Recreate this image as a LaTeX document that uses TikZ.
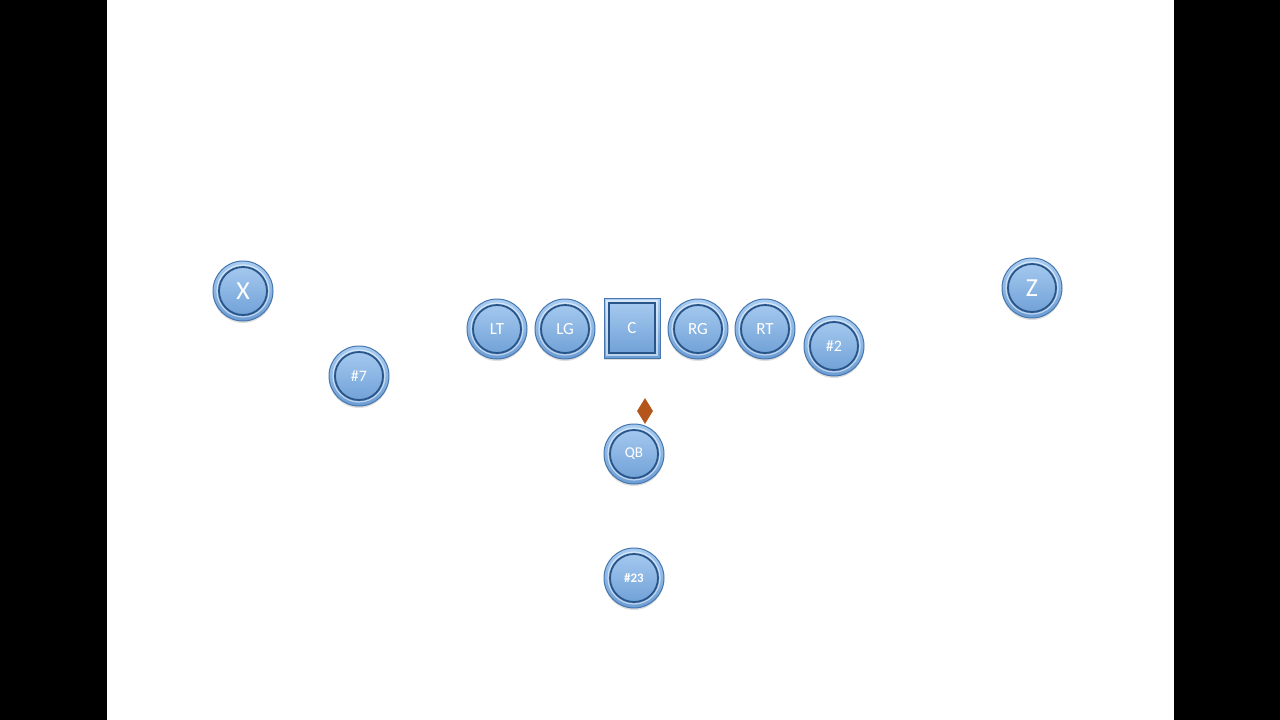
\documentclass[tikz,border=0pt]{standalone}
\usepackage{fontspec}
\setmainfont{Carlito}
\usetikzlibrary{shapes.geometric,shadows}
\definecolor{ptop}{HTML}{A9CDF2}
\definecolor{pbot}{HTML}{6C9DD4}
\definecolor{pedge}{HTML}{4676AE}
\definecolor{pring}{HTML}{2A5588}
\definecolor{snapc}{HTML}{B4561C}
\tikzset{
  player/.style={circle, minimum size=60pt, inner sep=0pt, draw=pedge, line width=1pt,
    top color=ptop, bottom color=pbot, text=white, font=\fontsize{17}{17}\selectfont,
    drop shadow={opacity=0.25, shadow xshift=0pt, shadow yshift=-2pt},
    path picture={
      \draw[white, opacity=0.55, line width=1.2pt] (path picture bounding box.center) circle (26);
      \draw[pring, line width=1.8pt] (path picture bounding box.center) circle (24);
    }},
  centerbox/.style={rectangle, minimum width=56pt, minimum height=60pt, inner sep=0pt, draw=pedge, line width=1pt,
    top color=ptop, bottom color=pbot, text=white, font=\fontsize{17}{17}\selectfont,
    drop shadow={opacity=0.25, shadow xshift=0pt, shadow yshift=-2pt},
    path picture={
      \draw[white, opacity=0.55, line width=1.2pt] ([shift={(3,3)}]path picture bounding box.north west) rectangle ([shift={(-3,-3)}]path picture bounding box.south east);
      \draw[pring, line width=1.8pt] ([shift={(5,5)}]path picture bounding box.north west) rectangle ([shift={(-5,-5)}]path picture bounding box.south east);
    }},
  snapball/.style={diamond, fill=snapc, draw=none, minimum width=16pt, minimum height=26pt, inner sep=0pt}
}
\begin{document}
\begin{tikzpicture}[x=1pt,y=-1pt]
\useasboundingbox (0,0) rectangle (1280,720);
\fill[black] (0,0) rectangle (107,720);
\fill[black] (1174,0) rectangle (1280,720);
\fill[white] (107,0) rectangle (1174,720);
\node[player, font=\fontsize{26}{26}\selectfont] (X) at (243,291) {X};
\node[player, font=\fontsize{16}{16}\selectfont] (p7) at (359,376) {\#7};
\node[player] (LT) at (497,329) {LT};
\node[player] (LG) at (565,329) {LG};
\node[centerbox] (C) at (632,328) {C};
\node[player] (RG) at (698,329) {RG};
\node[player] (RT) at (765,329) {RT};
\node[player, font=\fontsize{16}{16}\selectfont] (p2) at (834,346) {\#2};
\node[player, font=\fontsize{26}{26}\selectfont] (Z) at (1032,288) {Z};
\node[snapball] (ball) at (645,411) {};
\node[player, font=\fontsize{15}{15}\selectfont] (QB) at (634,454) {QB};
\node[player, font=\bfseries\fontsize{13}{13}\selectfont] (p23) at (634,578) {\#23};
\end{tikzpicture}
\end{document}
